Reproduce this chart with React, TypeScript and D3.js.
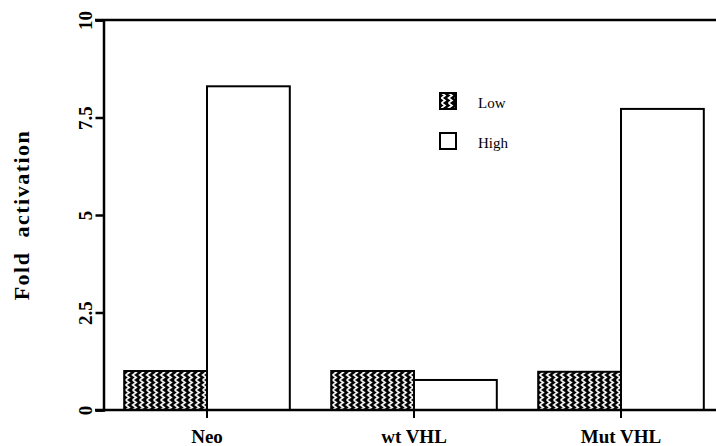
import React, { useEffect, useRef } from 'react';
import * as d3 from 'd3';

const categories = ['Neo', 'wt VHL', 'Mut VHL'];
const seriesNames = ['Low', 'High'];
const lowValues = [1.0, 1.0, 0.98];
const highValues = [8.3, 0.77, 7.72];
const yTickValues = [0, 2.5, 5, 7.5, 10];
const yTickLabels = ['0', '2.5', '5', '7.5', '10'];

const width = 716;
const height = 446;
const font = '"Liberation Serif", "Times New Roman", serif';

const App: React.FC = () => {
  const svgRef = useRef<SVGSVGElement | null>(null);

  useEffect(() => {
    if (!svgRef.current) return;
    const svg = d3.select(svgRef.current);
    svg.selectAll('*').remove();

    const left = 103.5;
    const top = 20;
    const bottom = 410;

    const y = d3.scaleLinear().domain([0, 10]).range([bottom, top]);
    const x = d3
      .scaleBand<string>()
      .domain(categories)
      .range([left, 724.5])
      .paddingInner(0.2)
      .paddingOuter(0.1);
    const xs = d3.scaleBand<string>().domain(seriesNames).range([0, x.bandwidth()]);

    // zigzag fill used for "Low"
    const defs = svg.append('defs');
    const pat = defs
      .append('pattern')
      .attr('id', 'zig')
      .attr('patternUnits', 'userSpaceOnUse')
      .attr('width', 7)
      .attr('height', 10);
    pat.append('rect').attr('width', 7).attr('height', 10).attr('fill', '#000');
    pat
      .append('path')
      .attr('d', 'M1.5,0 L5,2.5 L1.5,5 L5,7.5 L1.5,10')
      .attr('fill', 'none')
      .attr('stroke', '#fff')
      .attr('stroke-width', 1.6);

    const rows = categories.map((c, i) => ({ cat: c, Low: lowValues[i], High: highValues[i] }));

    const groups = svg
      .selectAll('.grp')
      .data(rows)
      .enter()
      .append('g')
      .attr('class', 'grp')
      .attr('transform', (d) => `translate(${x(d.cat)},0)`);

    groups
      .selectAll('rect')
      .data((d) => seriesNames.map((s) => ({ s, v: (d as any)[s] as number })))
      .enter()
      .append('rect')
      .attr('x', (d) => xs(d.s)!)
      .attr('y', (d) => y(d.v))
      .attr('width', xs.bandwidth())
      .attr('height', (d) => y(0) - y(d.v))
      .attr('fill', (d) => (d.s === 'Low' ? 'url(#zig)' : '#fff'))
      .attr('stroke', '#000')
      .attr('stroke-width', 2);

    // frame lines: top and bottom
    [10, 0].forEach((v) => {
      svg
        .append('line')
        .attr('x1', 95)
        .attr('x2', 716)
        .attr('y1', y(v))
        .attr('y2', y(v))
        .attr('stroke', '#000')
        .attr('stroke-width', 2.5);
    });

    // y axis
    const yAxis = svg
      .append('g')
      .attr('transform', `translate(${left},0)`)
      .call(
        d3
          .axisLeft(y)
          .tickValues(yTickValues)
          .tickSize(8)
          .tickFormat((d, i) => yTickLabels[i])
      );
    yAxis.attr('font-size', null).attr('font-family', null);
    yAxis.select('.domain').attr('stroke-width', 2.5);
    yAxis.selectAll('.tick line').attr('stroke-width', 2.5);
    yAxis
      .selectAll('.tick text')
      .attr('x', 0)
      .attr('y', 0)
      .attr('dy', 0)
      .attr('transform', 'translate(-12,0) rotate(-90)')
      .attr('text-anchor', 'middle')
      .style('font-family', font)
      .style('font-weight', 'bold')
      .style('font-size', '19px')
      .attr('fill', '#000');

    // x axis ticks and labels
    const xAxis = svg
      .append('g')
      .attr('transform', `translate(0,${bottom})`)
      .call(d3.axisBottom(x).tickSize(8).tickSizeOuter(0));
    xAxis.attr('font-size', null).attr('font-family', null);
    xAxis.select('.domain').remove();
    xAxis.selectAll('.tick line').attr('stroke-width', 2);
    xAxis
      .selectAll('.tick text')
      .attr('y', 33)
      .attr('dy', 0)
      .style('font-family', font)
      .style('font-weight', 'bold')
      .style('font-size', '19px')
      .attr('fill', '#000');

    // y title
    svg
      .append('text')
      .attr('transform', `translate(29,${(top + bottom) / 2}) rotate(-90)`)
      .attr('text-anchor', 'middle')
      .style('font-family', font)
      .style('font-weight', 'bold')
      .style('font-size', '22px')
      .style('letter-spacing', '1.5px')
      .style('white-space', 'pre')
      .text('Fold  activation');

    // legend
    const legend = svg.append('g').attr('transform', 'translate(440,93)');
    seriesNames.forEach((s, i) => {
      const g = legend.append('g').attr('transform', `translate(0,${i * 40})`);
      g.append('rect')
        .attr('width', 16)
        .attr('height', 16)
        .attr('fill', s === 'Low' ? 'url(#zig)' : '#fff')
        .attr('stroke', '#000')
        .attr('stroke-width', 2);
      g.append('text')
        .attr('x', 38)
        .attr('y', 15)
        .style('font-family', font)
        .style('font-size', '15px')
        .attr('fill', '#000')
        .text(s);
    });
  }, []);

  return (
    <svg
      ref={svgRef}
      width={width}
      height={height}
      style={{ position: 'absolute', left: 0, top: 0, background: '#fff' }}
    />
  );
};

export default App;
